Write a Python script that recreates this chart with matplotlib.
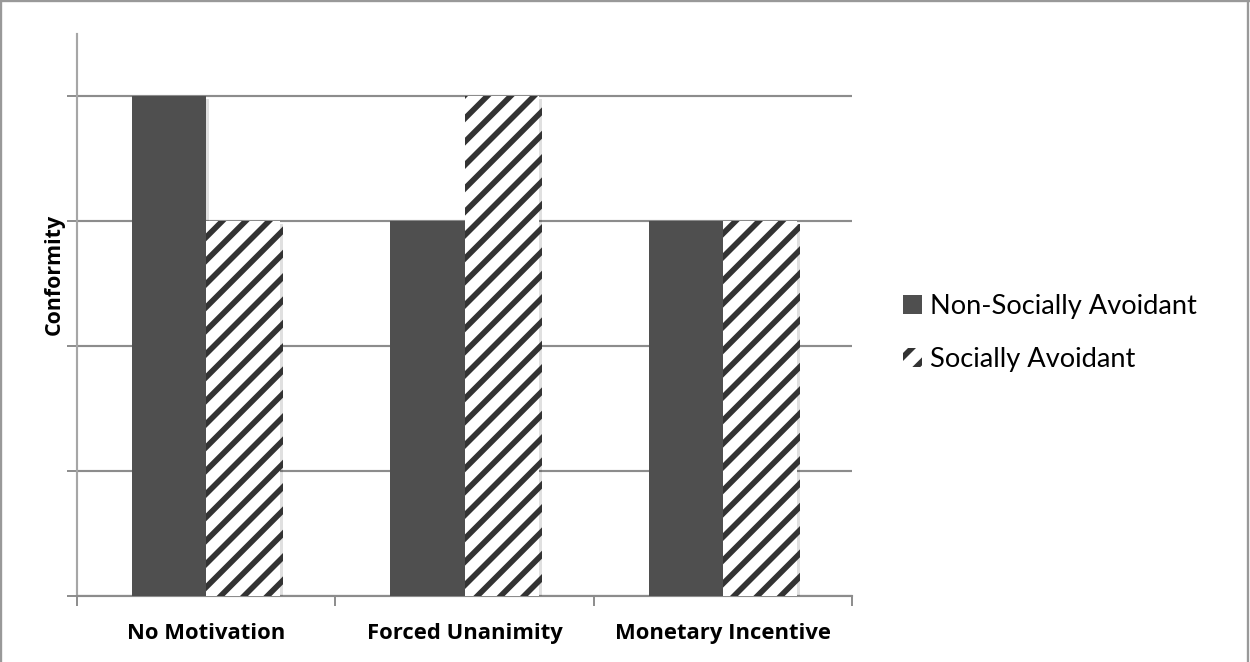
import matplotlib.pyplot as plt
import matplotlib.patheffects as pe
from matplotlib.patches import Patch
from matplotlib.lines import Line2D
import numpy as np

categories = ["No Motivation", "Forced Unanimity", "Monetary Incentive"]
non_avoidant = [4, 3, 3]
avoidant = [3, 4, 3]
series_names = ["Non-Socially Avoidant", "Socially Avoidant"]

DPI = 140
plt.rcParams['font.family'] = ['Lato', 'DejaVu Sans']
plt.rcParams['hatch.linewidth'] = 2.9
plt.rcParams['hatch.color'] = '#333333'
bold_font = ['Open Sans', 'DejaVu Sans']

fig = plt.figure(figsize=(1250 / DPI, 662 / DPI), dpi=DPI)
ax = fig.add_axes([0.0616, 0.0997, 0.62, 0.849])

x = np.arange(len(categories))
w = 0.287
shadow = [pe.SimplePatchShadow(offset=(1.5, -1.5), shadow_rgbFace='#000000', alpha=0.12), pe.Normal()]

b1 = ax.bar(x - w / 2, non_avoidant, w, color='#4f4f4f', linewidth=0, zorder=3)
b2 = ax.bar(x + w / 2, avoidant, w, color='white', edgecolor='#333333', hatch='//', linewidth=0, zorder=3)
for b in list(b1) + list(b2):
    b.set_path_effects(shadow)

ax.set_xlim(-0.5, 2.5)
ax.set_ylim(0, 4.5)
ax.set_yticks([0, 1, 2, 3, 4])
ax.set_yticklabels([])
ax.yaxis.grid(True, color='#8c8c8c', linewidth=1.1, zorder=0)
ax.set_axisbelow(True)

ax.set_xticks([-0.5, 0.5, 1.5, 2.5])
ax.set_xticklabels([])
ax.set_xticks(x, minor=True)
ax.set_xticklabels(categories, minor=True, fontweight='bold', fontsize=11.3, family=bold_font)
ax.tick_params(axis='x', which='minor', length=0, pad=14)
ax.tick_params(axis='x', which='major', length=5, width=1, color='#8c8c8c', direction='out')
ax.tick_params(axis='y', length=5, width=1, color='#8c8c8c', direction='out')

for s in ['top', 'right']:
    ax.spines[s].set_visible(False)
ax.spines['left'].set_color('#a6a6a6')
ax.spines['bottom'].set_color('#8c8c8c')
ax.spines['left'].set_linewidth(1.1)
ax.spines['bottom'].set_linewidth(1.1)

fig.text(0.0435, 0.585, "Conformity", rotation=90, fontweight='bold', fontsize=11.0,
         family=bold_font, ha='center', va='center')

handles = [Patch(facecolor='#4f4f4f', linewidth=0),
           Patch(facecolor='white', edgecolor='#333333', hatch='//', linewidth=0)]
fig.legend(handles, series_names, loc='center left', bbox_to_anchor=(0.703, 0.497),
           frameon=False, fontsize=14, labelspacing=1.0, handlelength=0.7,
           handleheight=0.7, handletextpad=0.3)

# grey frame on left, top and right
for xs, ys in [([0.001, 0.001], [0, 1]), ([0, 1], [0.998, 0.998]), ([0.9985, 0.9985], [0, 1])]:
    fig.add_artist(Line2D(xs, ys, transform=fig.transFigure, color='#999999', linewidth=1.2))

fig.savefig("out.png", dpi=DPI, facecolor='white')
